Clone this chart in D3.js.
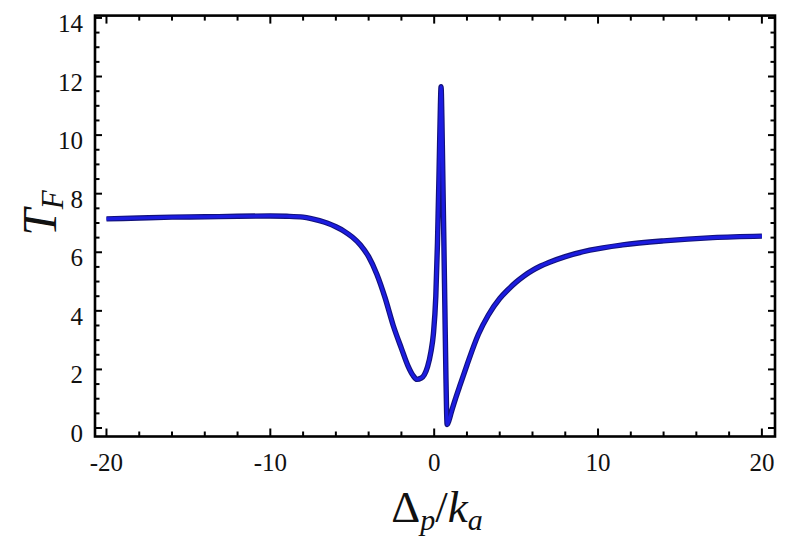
<!DOCTYPE html>
<html>
<head>
<meta charset="utf-8">
<script src="https://cdn.jsdelivr.net/npm/d3@7"></script>
<style>
  html, body { margin: 0; padding: 0; background: #fff; }
  svg { display: block; }
</style>
</head>
<body>
<svg id="chart" width="800" height="542"></svg>
<script>
// curve: detuning Δp/ka vs T_F
const deltaP = [-20, -18, -16, -14, -12, -10, -9, -8, -7.5, -7, -6.5, -6, -5.5, -5, -4.5, -4, -3.5, -3, -2.5, -2,
  -1.6, -1.3, -1.05, -0.8, -0.6, -0.4, -0.2, -0.05, 0.1, 0.2, 0.3, 0.38, 0.42, 0.47, 0.53, 0.59, 0.65, 0.71, 0.76,
  0.79, 0.9, 1.05, 1.3, 1.6, 2.0, 2.7, 3.3, 4.0, 4.5, 5.0, 5.5, 6.0, 6.5, 7.0, 8.0, 9.5, 11.5, 14, 17, 20];
const tF = [7.14, 7.17, 7.2, 7.21, 7.23, 7.24, 7.23, 7.2, 7.15, 7.08, 6.99, 6.87, 6.72, 6.52, 6.25, 5.85, 5.25, 4.45, 3.5, 2.72,
  2.12, 1.8, 1.66, 1.7, 1.82, 2.1, 2.6, 3.2, 4.5, 6.3, 8.8, 11.0, 11.65, 10.6, 8.5, 6.4, 4.2, 2.0, 0.5,
  0.12, 0.25, 0.55, 1.0, 1.5, 2.15, 3.2, 3.85, 4.42, 4.72, 4.98, 5.2, 5.38, 5.53, 5.65, 5.85, 6.07, 6.25, 6.39, 6.5, 6.55];

const xMajor = [-20, -10, 0, 10, 20];
const xMinor = d3.range(-20, 21, 2);
const yMajor = [0, 2, 4, 6, 8, 10, 12, 14];
const yMinor = d3.range(0, 14.01, 0.5);

const serif = "'Liberation Serif', 'Times New Roman', Times, serif";
const L = 95, R = 775, T = 15.6, B = 436.5;
const x = d3.scaleLinear().domain([-20.7, 20.8]).range([L, R]);
const y = d3.scaleLinear().domain([-0.29, 14.08]).range([B, T]);

const svg = d3.select("#chart");

// ticks on all four sides, pointing inward
const tk = svg.append("g").attr("stroke", "#000").attr("stroke-width", 2);
function xTicks(vals, len) {
  vals.forEach(v => {
    tk.append("line").attr("x1", x(v)).attr("x2", x(v)).attr("y1", B).attr("y2", B - len);
    tk.append("line").attr("x1", x(v)).attr("x2", x(v)).attr("y1", T).attr("y2", T + len);
  });
}
function yTicks(vals, len) {
  vals.forEach(v => {
    tk.append("line").attr("y1", y(v)).attr("y2", y(v)).attr("x1", L).attr("x2", L + len);
    tk.append("line").attr("y1", y(v)).attr("y2", y(v)).attr("x1", R).attr("x2", R - len);
  });
}
xTicks(xMinor.filter(v => !xMajor.includes(v)), 5);
xTicks(xMajor, 8);
yTicks(yMinor.filter(v => !yMajor.includes(v)), 4.5);
yTicks(yMajor, 7);

// curve
const line = d3.line().x((d, i) => x(deltaP[i])).y(d => y(d)).curve(d3.curveMonotoneX);
svg.append("path").datum(tF).attr("d", line)
  .attr("fill", "none").attr("stroke", "#12127a").attr("stroke-width", 5.4)
  .attr("stroke-linejoin", "round");
svg.append("path").datum(tF).attr("d", line)
  .attr("fill", "none").attr("stroke", "#1c1ce0").attr("stroke-width", 3.2)
  .attr("stroke-linejoin", "round");

// frame
svg.append("rect").attr("x", L).attr("y", T).attr("width", R - L).attr("height", B - T)
  .attr("fill", "none").attr("stroke", "#000").attr("stroke-width", 2.6);

// tick labels
svg.append("g").selectAll("text").data(xMajor).join("text")
  .attr("font-family", serif).attr("font-size", 25).attr("fill", "#111")
  .attr("text-anchor", "middle")
  .attr("x", d => x(d)).attr("y", 471)
  .text(d => d);
svg.append("g").selectAll("text").data(yMajor).join("text")
  .attr("font-family", serif).attr("font-size", 25).attr("fill", "#111")
  .attr("text-anchor", "end")
  .attr("x", 83).attr("y", d => y(d) + 14)
  .text(d => d);

// axis titles
const xt = svg.append("text").attr("font-family", serif).attr("fill", "#111")
  .attr("x", 437).attr("y", 522).attr("text-anchor", "middle").attr("font-size", 45);
xt.append("tspan").text("Δ");
xt.append("tspan").attr("font-style", "italic").attr("font-size", 30).attr("dy", 8).text("p");
xt.append("tspan").attr("dy", -8).text("/");
xt.append("tspan").attr("font-style", "italic").text("k");
xt.append("tspan").attr("font-style", "italic").attr("font-size", 30).attr("dy", 8).text("a");

const yt = svg.append("text").attr("font-family", serif).attr("fill", "#111")
  .attr("transform", "translate(56,213) rotate(-90)").attr("text-anchor", "middle")
  .attr("font-size", 48);
yt.append("tspan").attr("font-style", "italic").text("T");
yt.append("tspan").attr("font-style", "italic").attr("font-size", 31).attr("dy", 7).text("F");
</script>
</body>
</html>
